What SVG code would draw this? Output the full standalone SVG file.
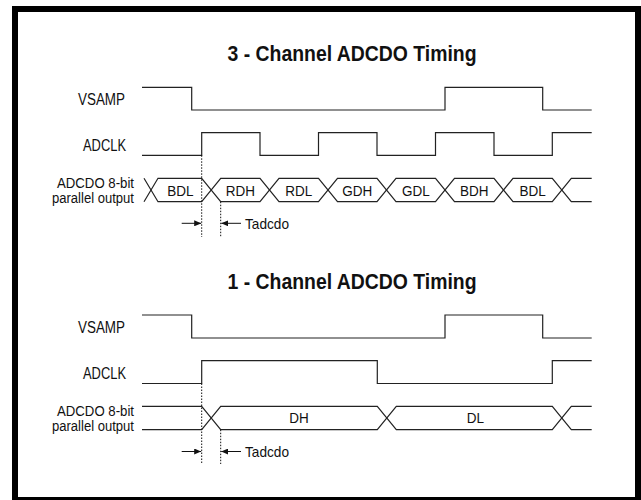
<svg xmlns="http://www.w3.org/2000/svg" width="641" height="500" viewBox="0 0 641 500">
<style>
text{font-family:"Liberation Sans",Arial,Helvetica,sans-serif;fill:#111}
.title{font-size:22px;font-weight:bold;text-anchor:middle}
.lbl{font-size:16px;text-anchor:end}
.bl{font-size:14px;text-anchor:end}
.d{font-size:15px;text-anchor:middle}
.t{font-size:15px}
.sig{fill:none;stroke:#222;stroke-width:1.2}
.dot{stroke:#111;stroke-width:1;stroke-dasharray:1.5 1.5}
.arr{stroke:#111;stroke-width:1;marker-end:url(#ah)}
</style>
<defs>
<marker id="ah" markerUnits="userSpaceOnUse" markerWidth="7" markerHeight="6" refX="7" refY="3" orient="auto">
<path d="M0,0 L7,3 L0,6 Z" fill="#111"/>
</marker>
</defs>
<rect x="0" y="0" width="641" height="500" fill="#fff"/>
<rect x="15" y="9" width="623" height="491" fill="none" stroke="#000" stroke-width="6"/>

<g id="top-section">
<g id="title-3ch"><text class="title" x="352" y="61" textLength="249" lengthAdjust="spacingAndGlyphs">3 - Channel ADCDO Timing</text></g>
<g id="vsamp-3ch">
<text class="lbl" x="125" y="105" textLength="47" lengthAdjust="spacingAndGlyphs">VSAMP</text>
<path class="sig" d="M142,87.3 H191.7 V110 H445 V87.3 H542.7 V110 H591.7"/>
</g>
<g id="adclk-3ch">
<text class="lbl" x="126" y="151" textLength="43" lengthAdjust="spacingAndGlyphs">ADCLK</text>
<path class="sig" d="M142,155.3 H201.7 V132.7 H260 V155.3 H318.5 V132.7 H377 V155.3 H435.5 V132.7 H494 V155.3 H552.3 V132.7 H591.7"/>
</g>
<g id="bus-3ch">
<text class="bl" x="134" y="187.5" textLength="77" lengthAdjust="spacingAndGlyphs">ADCDO 8-bit</text>
<text class="bl" x="134" y="203" textLength="82" lengthAdjust="spacingAndGlyphs">parallel output</text>
<path class="sig" d="M144,178.3 L158,201.7 H201.7 L220.7,178.3 H260 L279,201.7 H318.5 L337.5,178.3 H377 L396,201.7 H435.5 L454.5,178.3 H494 L513,201.7 H552.3 L571.3,178.3 H591.7"/>
<path class="sig" d="M144,201.7 L158,178.3 H201.7 L220.7,201.7 H260 L279,178.3 H318.5 L337.5,201.7 H377 L396,178.3 H435.5 L454.5,201.7 H494 L513,178.3 H552.3 L571.3,201.7 H591.7"/>
<text class="d" x="180.5" y="196" textLength="26.3" lengthAdjust="spacingAndGlyphs">BDL</text>
<text class="d" x="240.4" y="196" textLength="29.2" lengthAdjust="spacingAndGlyphs">RDH</text>
<text class="d" x="298.8" y="196" textLength="27" lengthAdjust="spacingAndGlyphs">RDL</text>
<text class="d" x="357.3" y="196" textLength="30" lengthAdjust="spacingAndGlyphs">GDH</text>
<text class="d" x="415.8" y="196" textLength="27.7" lengthAdjust="spacingAndGlyphs">GDL</text>
<text class="d" x="474.3" y="196" textLength="28.5" lengthAdjust="spacingAndGlyphs">BDH</text>
<text class="d" x="532.7" y="196" textLength="26.3" lengthAdjust="spacingAndGlyphs">BDL</text>
</g>
</g>

<g id="bottom-section">
<g id="title-1ch"><text class="title" x="352" y="289" textLength="249" lengthAdjust="spacingAndGlyphs">1 - Channel ADCDO Timing</text></g>
<g id="vsamp-1ch">
<text class="lbl" x="125" y="333" textLength="47" lengthAdjust="spacingAndGlyphs">VSAMP</text>
<path class="sig" d="M142,315 H191.7 V338 H445 V315 H542.7 V338 H591.7"/>
</g>
<g id="adclk-1ch">
<text class="lbl" x="126" y="379" textLength="43" lengthAdjust="spacingAndGlyphs">ADCLK</text>
<path class="sig" d="M142,383.5 H201.7 V360.7 H377.3 V383.5 H552.3 V360.7 H591.7"/>
</g>
<g id="bus-1ch">
<text class="bl" x="134" y="415.5" textLength="77" lengthAdjust="spacingAndGlyphs">ADCDO 8-bit</text>
<text class="bl" x="134" y="431" textLength="82" lengthAdjust="spacingAndGlyphs">parallel output</text>
<path class="sig" d="M142,406.3 H201.7 L220.7,429.7 H377.3 L396.3,406.3 H552.3 L571.3,429.7 H591.7"/>
<path class="sig" d="M142,429.7 H201.7 L220.7,406.3 H377.3 L396.3,429.7 H552.3 L571.3,406.3 H591.7"/>
<text class="d" x="299" y="423" textLength="19.5" lengthAdjust="spacingAndGlyphs">DH</text>
<text class="d" x="475.5" y="423" textLength="17.3" lengthAdjust="spacingAndGlyphs">DL</text>
</g>
</g>

<g id="connectors">
<line class="dot" x1="201.7" y1="155.3" x2="201.7" y2="237"/>
<line class="dot" x1="220.7" y1="201.7" x2="220.7" y2="237"/>
<line class="arr" x1="181.7" y1="223.3" x2="201.2" y2="223.3"/>
<line class="arr" x1="241" y1="223.3" x2="221.2" y2="223.3"/>
<line class="dot" x1="201.7" y1="383.5" x2="201.7" y2="464"/>
<line class="dot" x1="220.7" y1="429.7" x2="220.7" y2="464"/>
<line class="arr" x1="181.7" y1="451.5" x2="201.2" y2="451.5"/>
<line class="arr" x1="241" y1="451.5" x2="221.2" y2="451.5"/>
</g>
<g id="timing-labels">
<text class="t" x="245" y="228.5" textLength="44" lengthAdjust="spacingAndGlyphs">Tadcdo</text>
<text class="t" x="245" y="456.5" textLength="44" lengthAdjust="spacingAndGlyphs">Tadcdo</text>
</g>
</svg>
